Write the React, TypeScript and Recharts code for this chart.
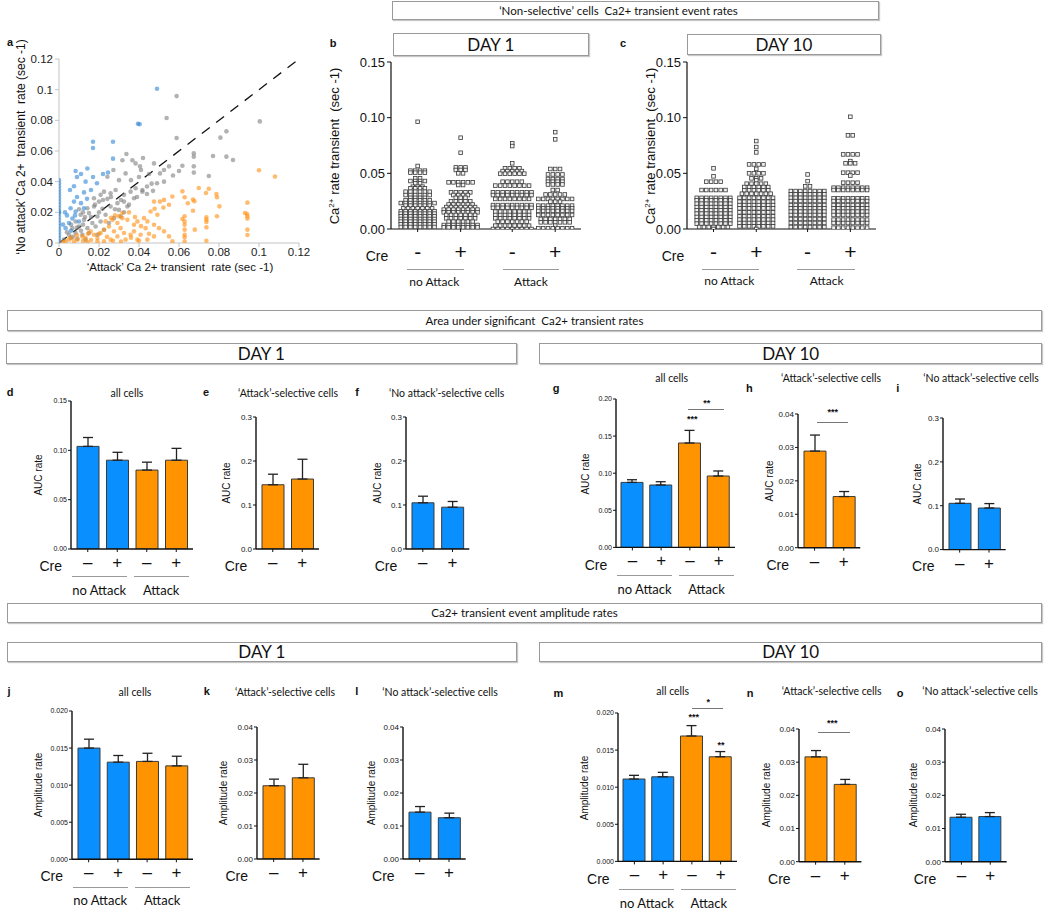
import React from 'react';
import {
  BarChart,
  Bar,
  Cell,
  ErrorBar,
  XAxis,
  YAxis,
  ScatterChart,
  Scatter,
  ComposedChart,
  ReferenceLine,
} from 'recharts';

// ---------------------------------------------------------------------------
// Styling constants
// ---------------------------------------------------------------------------

const ARIAL = '"Liberation Sans", Arial, sans-serif';
const MYRIAD = 'Lato, "Open Sans", sans-serif';
const BLUE = '#0a8fff';
const ORANGE = '#ff9300';

// ---------------------------------------------------------------------------
// Panel a: scatter of attack vs no-attack transient rates, [attack, noAttack]
// ---------------------------------------------------------------------------

const aBlue: [number, number][] = [
  [0, 0.041], [0, 0.039], [0, 0.037], [0, 0.035], [0, 0.033], [0, 0.031], [0, 0.029], [0, 0.027],
  [0, 0.025], [0, 0.023], [0, 0.021], [0, 0.02], [0, 0.019], [0, 0.017], [0, 0.015], [0, 0.013],
  [0, 0.011], [0, 0.009], [0, 0.007], [0, 0.005], [0, 0.003], [0, 0.001],
  [0.049, 0.1006], [0.0395, 0.0778], [0.0403, 0.0774], [0.017, 0.066], [0.017, 0.062], [0.027, 0.066],
  [0.027, 0.055], [0.0083, 0.047], [0.0142, 0.0486], [0.011, 0.045], [0.009, 0.043], [0.0133, 0.04],
  [0.017, 0.043], [0.019, 0.039], [0.022, 0.045], [0.0245, 0.046], [0.0055, 0.0346], [0.0075, 0.037],
  [0.0125, 0.033], [0.016, 0.0346], [0.009, 0.03], [0.0075, 0.027], [0.011, 0.026], [0.014, 0.0288],
  [0.0058, 0.0227], [0.0083, 0.0205], [0.0125, 0.0227], [0.004, 0.018], [0.0067, 0.016], [0.0033, 0.0097],
  [0.005, 0.013], [0.01, 0.014], [0.003, 0.02], [0.002, 0.012], [0.006, 0.008], [0.008, 0.018],
];

const aGray: [number, number][] = [
  [0.0588, 0.0958], [0.0538, 0.0815], [0.0588, 0.0685], [0.0337, 0.058], [0.0317, 0.054], [0.0383, 0.0519],
  [0.0405, 0.05], [0.041, 0.0476], [0.0475, 0.0519], [0.0525, 0.0476], [0.0505, 0.0454], [0.0272, 0.0476],
  [0.0242, 0.0432], [0.0333, 0.0454], [0.03, 0.041], [0.0525, 0.04], [0.049, 0.039], [0.044, 0.0368],
  [0.0417, 0.0346], [0.0383, 0.0357], [0.0358, 0.0335], [0.0325, 0.0314], [0.0283, 0.0346], [0.0258, 0.0324],
  [0.0225, 0.0335], [0.0208, 0.0314], [0.0175, 0.0292], [0.02, 0.027], [0.0242, 0.0288], [0.0292, 0.026],
  [0.0325, 0.027], [0.0375, 0.0292], [0.0417, 0.0335], [0.0142, 0.0227], [0.0175, 0.0238], [0.0217, 0.0223],
  [0.0258, 0.0238], [0.03, 0.0216], [0.0342, 0.0238], [0.0325, 0.0201], [0.0108, 0.0184], [0.015, 0.0195],
  [0.0192, 0.0173], [0.0233, 0.0184], [0.0275, 0.0162], [0.0308, 0.0173], [0.0083, 0.014], [0.0125, 0.0151],
  [0.0167, 0.013], [0.0208, 0.014], [0.025, 0.013], [0.0067, 0.0097], [0.01, 0.0108], [0.0142, 0.0097],
  [0.0183, 0.0108], [0.0225, 0.0086], [0.005, 0.0054], [0.0083, 0.0065], [0.0117, 0.0054], [0.015, 0.0065],
  [0.0192, 0.0054], [0.0025, 0.0022], [0.0058, 0.0032], [0.0092, 0.0028], [0.0133, 0.0022], [0.0367, 0.054],
  [0.042, 0.0554], [0.0463, 0.0387], [0.1004, 0.0793], [0.0837, 0.0728], [0.0807, 0.0687], [0.0674, 0.0585],
  [0.0674, 0.0563], [0.0617, 0.0504], [0.077, 0.0567], [0.0837, 0.0563], [0.087, 0.0541], [0.0674, 0.05],
  [0.0674, 0.0459], [0.0749, 0.0437], [0.012, 0.02], [0.016, 0.017], [0.02, 0.02], [0.018, 0.025],
  [0.022, 0.028], [0.026, 0.03], [0.028, 0.022], [0.031, 0.028], [0.035, 0.025], [0.039, 0.03],
  [0.044, 0.032], [0.047, 0.034], [0.036, 0.041], [0.04, 0.043], [0.045, 0.045], [0.055, 0.05],
  [0.057, 0.044], [0.06, 0.047], [0.006, 0.012], [0.009, 0.01], [0.012, 0.012], [0.013, 0.017],
  [0.01, 0.022], [0.004, 0.007], [0.007, 0.004], [0.011, 0.008],
];

const aOrange: [number, number][] = [
  [0.0475, 0.027], [0.0505, 0.027], [0.0525, 0.0281], [0.0567, 0.0303], [0.055, 0.0249], [0.0478, 0.0223],
  [0.0522, 0.0231], [0.0492, 0.0184], [0.0458, 0.0205], [0.0425, 0.0162], [0.0392, 0.0141], [0.0442, 0.0141],
  [0.0475, 0.0119], [0.05, 0.0097], [0.0525, 0.0076], [0.055, 0.0043], [0.0567, 0.0011], [0.0433, 0.0097],
  [0.0375, 0.0119], [0.0342, 0.0151], [0.0317, 0.0162], [0.0292, 0.013], [0.0308, 0.0097], [0.0325, 0.0065],
  [0.0358, 0.0054], [0.0275, 0.0076], [0.025, 0.0108], [0.0225, 0.0086], [0.0208, 0.0065], [0.0192, 0.0032],
  [0.0175, 0.0054], [0.0158, 0.0076], [0.0133, 0.0032], [0.0117, 0.0043], [0.0092, 0.0022], [0.0075, 0.0011],
  [0.005, 0.0022], [0.0033, 0.0011], [0.0017, 0.0006], [0.0292, 0.0043], [0.0333, 0.0022], [0.0392, 0.0022],
  [0.0442, 0.0022], [0.0258, 0.0022], [0.0225, 0.0011], [0.0192, 0.0011], [0.0142, 0.0006], [0.0375, 0.0076],
  [0.0408, 0.0054], [0.0475, 0.0043], [0.0317, 0.0195], [0.0267, 0.0151], [0.0233, 0.0141], [0.028, 0.018],
  [0.03, 0.0175], [0.026, 0.0165], [0.035, 0.02], [0.038, 0.017], [0.041, 0.011], [0.045, 0.006],
  [0.012, 0.0015], [0.016, 0.002], [0.02, 0.006], [0.024, 0.004], [0.027, 0.0015], [0.031, 0.001],
  [0.036, 0.0035], [0.04, 0.0015], [0.006, 0.0035], [0.009, 0.005], [0.0145, 0.006],
  [0.1, 0.0474], [0.108, 0.0433], [0.0617, 0.0337], [0.0628, 0.0298], [0.0699, 0.0359], [0.0749, 0.0354],
  [0.067, 0.0283], [0.0677, 0.0272], [0.0644, 0.0259], [0.0735, 0.0326], [0.0787, 0.032], [0.079, 0.0298],
  [0.0802, 0.0239], [0.067, 0.021], [0.0628, 0.0174], [0.0617, 0.0157], [0.0628, 0.0141], [0.0628, 0.0119],
  [0.0628, 0.0087], [0.0628, 0.0054], [0.0628, 0.0037], [0.0628, 0.001], [0.0737, 0.0167], [0.0737, 0.0152],
  [0.0737, 0.0137], [0.0737, 0.0102], [0.0737, 0.0015], [0.079, 0.0174], [0.0679, 0.0087], [0.0942, 0.0263],
  [0.093, 0.0196], [0.094, 0.0189], [0.0942, 0.0174], [0.0942, 0.0159], [0.0942, 0.0087], [0.0942, 0.0052],
];

const aTicks = [0, 0.02, 0.04, 0.06, 0.08, 0.1, 0.12];

// ---------------------------------------------------------------------------
// Panels b, c: dot plots, rows of [rate, number of cells at that rate]
// ---------------------------------------------------------------------------

const creSigns = ['-', '+', '-', '+'];

const b1 = [[0.0963, 1], [0.0566, 1], [0.0524, 4], [0.0506, 4], [0.0455, 2], [0.0431, 4], [0.041, 2], [0.038, 3], [0.0365, 4], [0.0335, 6], [0.0305, 6], [0.028, 4], [0.0257, 6], [0.0233, 8], [0.021, 6], [0.0185, 7], [0.016, 8], [0.0138, 8], [0.0114, 8], [0.009, 8], [0.0066, 8], [0.0042, 8], [0.0018, 8]];
const b2 = [[0.082, 1], [0.0685, 1], [0.0553, 3], [0.053, 3], [0.05, 2], [0.0419, 6], [0.0395, 2], [0.0329, 5], [0.0305, 4], [0.028, 3], [0.025, 5], [0.022, 6], [0.0197, 7], [0.0174, 8], [0.015, 8], [0.0126, 7], [0.0096, 7], [0.0066, 6], [0.0036, 8], [0.0015, 8]];
const b3 = [[0.0769, 1], [0.0745, 1], [0.059, 1], [0.0545, 4], [0.052, 5], [0.0497, 6], [0.0425, 5], [0.039, 8], [0.033, 9], [0.0305, 9], [0.027, 8], [0.0215, 9], [0.019, 9], [0.0156, 8], [0.0126, 8], [0.0096, 8], [0.0066, 7], [0.003, 8], [0.0, 9]];
const b4 = [[0.087, 1], [0.0805, 1], [0.0539, 3], [0.049, 4], [0.0449, 4], [0.0425, 4], [0.04, 4], [0.035, 2], [0.031, 5], [0.027, 8], [0.0245, 3], [0.021, 8], [0.0186, 8], [0.0162, 8], [0.0126, 8], [0.009, 7], [0.006, 7], [0.003, 1], [0.0006, 8]];
const bMeans = [0.0165, 0.016, 0.016, 0.017];

const c1 = [[0.0545, 1], [0.0473, 1], [0.0425, 4], [0.035, 6], [0.028, 8], [0.0257, 8], [0.0227, 8], [0.0197, 8], [0.0168, 8], [0.0138, 8], [0.0108, 8], [0.0078, 8], [0.0048, 8], [0.0018, 7], [0, 1]];
const c2 = [[0.079, 1], [0.0736, 1], [0.0688, 1], [0.058, 4], [0.054, 1], [0.05, 4], [0.0455, 3], [0.0437, 1], [0.0407, 5], [0.0377, 6], [0.0347, 6], [0.0317, 7], [0.028, 8], [0.0245, 8], [0.0215, 8], [0.0186, 8], [0.015, 8], [0.0114, 8], [0.0084, 8], [0.0054, 8], [0.0024, 8], [0, 1]];
const c3 = [[0.049, 1], [0.043, 1], [0.0383, 2], [0.0341, 8], [0.0311, 8], [0.028, 8], [0.0251, 8], [0.0215, 8], [0.0186, 8], [0.0156, 8], [0.0126, 8], [0.009, 8], [0.0054, 8], [0.0018, 8]];
const c4 = [[0.1008, 1], [0.0841, 2], [0.067, 4], [0.061, 1], [0.059, 3], [0.0506, 4], [0.048, 1], [0.0416, 4], [0.0371, 8], [0.035, 8], [0.0275, 8], [0.0251, 8], [0.0215, 8], [0.0186, 8], [0.0156, 8], [0.0126, 8], [0.0084, 8], [0.0054, 8], [0.0012, 8]];
const cMeans = [0.015, 0.017, 0.016, 0.017];

const dotTicks = [0, 0.05, 0.1, 0.15];

// ---------------------------------------------------------------------------
// Panels d - o: bar means and SEM
// ---------------------------------------------------------------------------

const CRE4 = ['–', '+', '–', '+'];
const CRE2 = ['–', '+'];

const dVals = [0.104, 0.09, 0.08, 0.09];
const dSem = [0.009, 0.008, 0.008, 0.012];
const eVals = [0.146, 0.159];
const eSem = [0.024, 0.045];
const fVals = [0.105, 0.095];
const fSem = [0.015, 0.013];
const gVals = [0.0876, 0.0841, 0.1407, 0.0962];
const gSem = [0.0036, 0.0044, 0.017, 0.0068];
const hVals = [0.0289, 0.0153];
const hSem = [0.0048, 0.0015];
const iVals = [0.1055, 0.0948];
const iSem = [0.0098, 0.0101];
const jVals = [0.015, 0.0131, 0.0132, 0.0126];
const jSem = [0.0012, 0.0009, 0.0011, 0.0013];
const kVals = [0.0222, 0.0246];
const kSem = [0.002, 0.0041];
const lVals = [0.0142, 0.0125];
const lSem = [0.0017, 0.0014];
const mVals = [0.0111, 0.0114, 0.0169, 0.0141];
const mSem = [0.0005, 0.0006, 0.0014, 0.0007];
const nVals = [0.0316, 0.0233];
const nSem = [0.0019, 0.0015];
const oVals = [0.0134, 0.0136];
const oSem = [0.0009, 0.0012];

const MIXED = [BLUE, BLUE, ORANGE, ORANGE];
const ALL_O = [ORANGE, ORANGE];
const ALL_B = [BLUE, BLUE];

// ---------------------------------------------------------------------------
// Small layout helpers
// ---------------------------------------------------------------------------

const Txt: React.FC<{
  x: number; y: number; size?: number; font?: string; weight?: number; rot?: boolean; color?: string;
  children: React.ReactNode;
}> = ({ x, y, size = 12, font = ARIAL, weight = 400, rot = false, color = '#111', children }) => (
  <div
    style={{
      position: 'absolute', left: x, top: y,
      transform: `translate(-50%, -50%)${rot ? ' rotate(-90deg)' : ''}`,
      fontSize: size, fontFamily: font, fontWeight: weight, color,
      whiteSpace: 'pre', lineHeight: 1,
    }}
  >
    {children}
  </div>
);

const HLine: React.FC<{ x0: number; x1: number; y: number; color?: string }> = ({ x0, x1, y, color = '#9a9a9a' }) => (
  <div style={{ position: 'absolute', left: x0, top: y, width: x1 - x0, borderTop: `1px solid ${color}` }} />
);

const Box: React.FC<{
  x0: number; y0: number; x1: number; y1: number; size: number; shift?: number; font?: string; children: React.ReactNode;
}> = ({ x0, y0, x1, y1, size, shift = 0, font = MYRIAD, children }) => (
  <div
    style={{
      position: 'absolute', left: x0, top: y0, width: x1 - x0, height: y1 - y0, boxSizing: 'border-box',
      border: '1px solid #9a9a9a', boxShadow: '1px 1px 1px #c8c8c8', display: 'flex', alignItems: 'center',
      justifyContent: 'center', fontFamily: font, fontSize: size, color: '#111', whiteSpace: 'pre',
    }}
  >
    <span style={{ position: 'relative', left: shift }}>{children}</span>
  </div>
);

const makeTicks = (max: number, step: number) => {
  const out: number[] = [];
  for (let k = 0; k <= Math.round(max / step); k++) out.push(+(k * step).toFixed(5));
  return out;
};

// ---------------------------------------------------------------------------
// Panel a
// ---------------------------------------------------------------------------

const dot = (color: string) => (props: any) => (
  <circle cx={props.cx} cy={props.cy} r={2.3} fill={color} fillOpacity={0.6} />
);

const ScatterPanel: React.FC = () => {
  const [x0, y0, x1, y1] = [59.3, 59.3, 299.3, 243.3];
  const YW = 40, T = 10, R = 14, XH = 20;
  const toPts = (arr: [number, number][]) => arr.map(([x, y]) => ({ x, y }));
  const axis = { stroke: '#c4c4c4' };
  const tick = { fontSize: 11.5, fill: '#222', fontFamily: ARIAL };
  return (
    <div style={{ position: 'absolute', left: x0 - YW, top: y0 - T }}>
      <ScatterChart width={x1 - x0 + YW + R} height={y1 - y0 + T + XH} margin={{ top: T, right: R, left: 0, bottom: 0 }}>
        <XAxis type="number" dataKey="x" domain={[0, 0.12]} ticks={aTicks} height={XH} axisLine={axis} tickLine={axis}
          tickSize={4} tickMargin={1} tick={tick} tickFormatter={(v: number) => String(+v.toFixed(2))} allowDataOverflow />
        <YAxis type="number" dataKey="y" domain={[0, 0.12]} ticks={aTicks} width={YW} axisLine={axis} tickLine={axis}
          tickSize={4} tick={tick} tickFormatter={(v: number) => String(+v.toFixed(2))} allowDataOverflow />
        <Scatter data={toPts(aGray)} shape={dot('#7f7f7f')} isAnimationActive={false} />
        <Scatter data={toPts(aOrange)} shape={dot('#ff9010')} isAnimationActive={false} />
        <Scatter data={toPts(aBlue)} shape={dot('#2f86d6')} isAnimationActive={false} />
        <ReferenceLine segment={[{ x: 0, y: 0 }, { x: 0.12, y: 0.12 }]} stroke="#111" strokeWidth={1.3} strokeDasharray="10 8" />
      </ScatterChart>
    </div>
  );
};

// ---------------------------------------------------------------------------
// Panels b, c
// ---------------------------------------------------------------------------

const GROUP_GAP = 0.2;
const DOT_STEP = 0.112;

const squareDot = (props: any) => (
  <rect x={props.cx - 1.8} y={props.cy - 1.8} width={3.6} height={3.6} fill="#f2f2f2" stroke="#3a3a3a" strokeWidth={0.8} />
);

const DotPanel: React.FC<{ box: [number, number, number, number]; cols: number[][][]; means: number[] }> = ({ box, cols, means }) => {
  const [x0, y0, x1, y1] = box;
  const YW = 40, T = 8, R = 4, XH = 40;
  const pos = cols.map((_, i) => i + (i >= 2 ? GROUP_GAP : 0));
  const pts = cols.flatMap((rows, i) =>
    rows.flatMap(([v, n]) => Array.from({ length: n }, (_, j) => ({ x: pos[i] + (j - (n - 1) / 2) * DOT_STEP, y: v })))
  );
  const bars = means.map((m, i) => ({ x: pos[i], y: m }));
  const axis = { stroke: '#111', strokeWidth: 1.2 };
  return (
    <div style={{ position: 'absolute', left: x0 - YW, top: y0 - T }}>
      <ComposedChart width={x1 - x0 + YW + R} height={y1 - y0 + T + XH} data={bars} margin={{ top: T, right: R, left: 0, bottom: 0 }}>
        <XAxis type="number" dataKey="x" domain={[-0.62, 3.8]} ticks={pos} height={XH} axisLine={axis}
          tickLine={{ stroke: '#111' }} tickSize={3} tickMargin={12} interval={0}
          tick={{ fontSize: 21, fill: '#111', fontFamily: ARIAL }}
          tickFormatter={(_v: number, i: number) => creSigns[i]} allowDataOverflow />
        <YAxis type="number" dataKey="y" domain={[0, 0.15]} ticks={dotTicks} width={YW} axisLine={axis}
          tickLine={{ stroke: '#111' }} tickSize={4} tick={{ fontSize: 13, fill: '#111', fontFamily: ARIAL }}
          tickFormatter={(v: number) => v.toFixed(2)} allowDataOverflow />
        <Bar dataKey="y" barSize={40} fill="#e6e6e6" stroke="#8a8a8a" strokeWidth={0.8} isAnimationActive={false} />
        <Scatter data={pts} shape={squareDot} isAnimationActive={false} />
      </ComposedChart>
    </div>
  );
};

// ---------------------------------------------------------------------------
// Bar panels d - o
// ---------------------------------------------------------------------------

interface BarPanelProps {
  box: [number, number, number, number];
  max: number;
  step: number;
  dec: number;
  font: number;
  cats: string[];
  vals: number[];
  sems: number[];
  colors: string[];
}

const BarPanel: React.FC<BarPanelProps> = ({ box, max, step, dec, font, cats, vals, sems, colors }) => {
  const [x0, y0, x1, y1] = box;
  const YW = 40, T = 8, R = 6, XH = 30;
  const data = cats.map((c, i) => ({ cre: c, v: vals[i], err: [0, sems[i]] }));
  const axis = { stroke: '#111', strokeWidth: 1.4 };
  return (
    <div style={{ position: 'absolute', left: x0 - YW, top: y0 - T }}>
      <BarChart width={x1 - x0 + YW + R} height={y1 - y0 + T + XH} data={data} margin={{ top: T, right: R, left: 0, bottom: 0 }}>
        <XAxis dataKey="cre" height={XH} axisLine={axis} tickLine={{ stroke: '#111' }} tickSize={3} tickMargin={4}
          interval={0} padding={{ left: 2, right: 2 }} tick={{ fontSize: 17, fill: '#111', fontFamily: ARIAL }} />
        <YAxis type="number" domain={[0, max]} ticks={makeTicks(max, step)} width={YW} axisLine={axis}
          tickLine={{ stroke: '#111' }} tickSize={3} tickMargin={1} allowDataOverflow
          tick={{ fontSize: font, fill: '#111', fontFamily: ARIAL }} tickFormatter={(v: number) => v.toFixed(dec)} />
        <Bar dataKey="v" barSize={22} stroke="#3a3a3a" strokeWidth={1} isAnimationActive={false}>
          {data.map((_, i) => (
            <Cell key={i} fill={colors[i]} />
          ))}
          <ErrorBar dataKey="err" direction="y" width={5} stroke="#222" strokeWidth={1.3} />
        </Bar>
      </BarChart>
    </div>
  );
};

interface PanelSpec extends BarPanelProps {
  letter: string;
  lx: number;
  ly: number;
  title: string;
  tx: number;
  ty: number;
  ylabel: string;
  yx: number;
}

const SEL_ATTACK = '‘Attack’-selective cells';
const SEL_NO = '‘No attack’-selective cells';

const panels: PanelSpec[] = [
  { letter: 'd', lx: 10, ly: 392, title: 'all cells', tx: 127, ty: 392.7, ylabel: 'AUC rate', yx: 39,
    box: [70.7, 400.7, 192.7, 548.7], max: 0.15, step: 0.05, dec: 2, font: 7, cats: CRE4, vals: dVals, sems: dSem, colors: MIXED },
  { letter: 'e', lx: 206, ly: 392, title: SEL_ATTACK, tx: 288, ty: 392.7, ylabel: 'AUC rate', yx: 226.7,
    box: [256, 416.7, 319, 548.7], max: 0.3, step: 0.1, dec: 1, font: 8, cats: CRE2, vals: eVals, sems: eSem, colors: ALL_O },
  { letter: 'f', lx: 357, ly: 392, title: SEL_NO, tx: 446.7, ty: 392.7, ylabel: 'AUC rate', yx: 377.7,
    box: [406, 416.7, 469.3, 548.7], max: 0.3, step: 0.1, dec: 1, font: 8, cats: CRE2, vals: fVals, sems: fSem, colors: ALL_B },
  { letter: 'g', lx: 556, ly: 388, title: 'all cells', tx: 671.7, ty: 378.3, ylabel: 'AUC rate', yx: 585.7,
    box: [616, 399.3, 735, 547.7], max: 0.2, step: 0.05, dec: 2, font: 7, cats: CRE4, vals: gVals, sems: gSem, colors: MIXED },
  { letter: 'h', lx: 749.3, ly: 388, title: SEL_ATTACK, tx: 831, ty: 378.3, ylabel: 'AUC rate', yx: 770,
    box: [797.7, 414, 860, 547.7], max: 0.04, step: 0.01, dec: 2, font: 8, cats: CRE2, vals: hVals, sems: hSem, colors: ALL_O },
  { letter: 'i', lx: 897.7, ly: 388, title: SEL_NO, tx: 981, ty: 378.3, ylabel: 'AUC rate', yx: 918.3,
    box: [943.3, 417.7, 1006, 549.3], max: 0.3, step: 0.1, dec: 1, font: 8, cats: CRE2, vals: iVals, sems: iSem, colors: ALL_B },
  { letter: 'j', lx: 9, ly: 690.7, title: 'all cells', tx: 135, ty: 692, ylabel: 'Amplitude rate', yx: 39,
    box: [71.7, 711, 192.7, 859.3], max: 0.02, step: 0.005, dec: 3, font: 7, cats: CRE4, vals: jVals, sems: jSem, colors: MIXED },
  { letter: 'k', lx: 206.7, ly: 690.7, title: SEL_ATTACK, tx: 285, ty: 692, ylabel: 'Amplitude rate', yx: 224,
    box: [256.7, 727.3, 319.3, 859.3], max: 0.04, step: 0.01, dec: 2, font: 8, cats: CRE2, vals: kVals, sems: kSem, colors: ALL_O },
  { letter: 'l', lx: 356.7, ly: 690.7, title: SEL_NO, tx: 440, ty: 692, ylabel: 'Amplitude rate', yx: 371.7,
    box: [403.3, 727.3, 466, 859.3], max: 0.04, step: 0.01, dec: 2, font: 8, cats: CRE2, vals: lVals, sems: lSem, colors: ALL_B },
  { letter: 'm', lx: 558.3, ly: 692.7, title: 'all cells', tx: 672.7, ty: 690.7, ylabel: 'Amplitude rate', yx: 585,
    box: [618.3, 713.3, 737.3, 861.7], max: 0.02, step: 0.005, dec: 3, font: 7, cats: CRE4, vals: mVals, sems: mSem, colors: MIXED },
  { letter: 'n', lx: 750, ly: 692.7, title: SEL_ATTACK, tx: 831.7, ty: 690.7, ylabel: 'Amplitude rate', yx: 767.3,
    box: [799.3, 729, 861.7, 861.7], max: 0.04, step: 0.01, dec: 2, font: 8, cats: CRE2, vals: nVals, sems: nSem, colors: ALL_O },
  { letter: 'o', lx: 900, ly: 692.7, title: SEL_NO, tx: 980, ty: 690.7, ylabel: 'Amplitude rate', yx: 914,
    box: [945, 729, 1006.7, 861.7], max: 0.04, step: 0.01, dec: 2, font: 8, cats: CRE2, vals: oVals, sems: oSem, colors: ALL_B },
];

// significance marks: [x, y, text] and brackets [x0, x1, y]
const stars: [number, number, string][] = [
  [692.3, 419, '***'], [706.7, 403, '**'], [832.7, 412, '***'],
  [693.7, 717, '***'], [721, 745, '**'], [708.3, 701.5, '*'], [832.3, 723, '***'],
];
const brackets: [number, number, number][] = [
  [688.3, 723.7, 409], [816.7, 848.3, 422], [692.3, 723.3, 708.3], [817.7, 850, 731.7],
];

// ---------------------------------------------------------------------------
// App
// ---------------------------------------------------------------------------

const CaLabel = () => (
  <span>
    Ca<sup style={{ fontSize: '0.62em', verticalAlign: '0.55em', lineHeight: 0 }}>2+</sup>
    {' rate transient  (sec -1)'}
  </span>
);

export default function App() {
  return (
    <div style={{ position: 'relative', width: 1050, height: 908, background: '#fff', overflow: 'hidden' }}>
      <style>{'body{margin:0}'}</style>

      {/* panel a */}
      <Txt x={10} y={42} size={11} weight={700}>a</Txt>
      <ScatterPanel />
      <Txt x={21} y={147} size={12} rot>{'‘No attack’ Ca 2+  transient  rate (sec -1)'}</Txt>
      <Txt x={180} y={268} size={11.5}>{'‘Attack’ Ca 2+ transient  rate (sec -1)'}</Txt>

      {/* panels b, c */}
      <Box x0={392} y0={1} x1={879} y1={20} size={11.5} shift={-17}>{'‘Non-selective’ cells  Ca2+ transient event rates'}</Box>
      <Box x0={392.7} y0={33} x1={589} y1={56} size={17}>DAY 1</Box>
      <Box x0={687} y0={34} x1={880.7} y1={55.3} size={17}>DAY 10</Box>
      <Txt x={333} y={43} size={11} weight={700}>b</Txt>
      <Txt x={623} y={43} size={11} weight={700}>c</Txt>
      <DotPanel box={[390.7, 62, 580.7, 229]} cols={[b1, b2, b3, b4]} means={bMeans} />
      <DotPanel box={[687, 62, 876, 229]} cols={[c1, c2, c3, c4]} means={cMeans} />
      <Txt x={334} y={146} size={13} rot><CaLabel /></Txt>
      <Txt x={650} y={146} size={13} rot><CaLabel /></Txt>
      <Txt x={377} y={256} size={14}>Cre</Txt>
      <Txt x={673} y={256} size={14}>Cre</Txt>
      <HLine x0={407} x1={464} y={268.7} />
      <HLine x0={502.7} x1={559} y={268.7} />
      <HLine x0={701.7} x1={759} y={268.7} />
      <HLine x0={797.3} x1={855} y={268.7} />
      <Txt x={434.3} y={281.7} size={12} font={MYRIAD}>no Attack</Txt>
      <Txt x={531} y={281.7} size={12} font={MYRIAD}>Attack</Txt>
      <Txt x={729.3} y={281} size={12} font={MYRIAD}>no Attack</Txt>
      <Txt x={826.7} y={281} size={12} font={MYRIAD}>Attack</Txt>

      {/* section headers */}
      <Box x0={7} y0={310} x1={1042} y1={331} size={11.5} shift={10}>{'Area under significant  Ca2+ transient rates'}</Box>
      <Box x0={6} y0={342.7} x1={516.7} y1={364} size={17}>DAY 1</Box>
      <Box x0={539.3} y0={342.7} x1={1042} y1={364} size={17}>DAY 10</Box>
      <Box x0={7} y0={602.7} x1={1042} y1={623.3} size={11.5}>{'Ca2+ transient event amplitude rates'}</Box>
      <Box x0={7} y0={641.7} x1={516.7} y1={662.3} size={17}>DAY 1</Box>
      <Box x0={539.3} y0={641.7} x1={1042} y1={662.3} size={17}>DAY 10</Box>

      {/* bar panels */}
      {panels.map((p) => {
        const [x0, y0, , y1] = p.box;
        return (
          <React.Fragment key={p.letter}>
            <BarPanel {...p} />
            <Txt x={p.lx} y={p.ly} size={11} weight={700}>{p.letter}</Txt>
            <Txt x={p.tx} y={p.ty} size={10.5} font={MYRIAD}>{p.title}</Txt>
            <Txt x={p.yx} y={(y0 + y1) / 2} size={10} rot>{p.ylabel}</Txt>
            <Txt x={x0 - 20} y={y1 + 17} size={14}>Cre</Txt>
            {p.cats.length === 4 && (
              <>
                <HLine x0={x0 + 1} x1={x0 + 56} y={y1 + 27.5} />
                <HLine x0={x0 + 63} x1={x0 + 118} y={y1 + 27.5} />
                <Txt x={x0 + 28.5} y={y1 + 41} size={13} font={MYRIAD}>no Attack</Txt>
                <Txt x={x0 + 90.5} y={y1 + 41} size={13} font={MYRIAD}>Attack</Txt>
              </>
            )}
          </React.Fragment>
        );
      })}

      {brackets.map(([bx0, bx1, by], i) => (
        <HLine key={`br${i}`} x0={bx0} x1={bx1} y={by} color="#777" />
      ))}
      {stars.map(([sx, sy, s], i) => (
        <Txt key={`st${i}`} x={sx} y={sy} size={9} weight={700}>{s}</Txt>
      ))}
    </div>
  );
}
